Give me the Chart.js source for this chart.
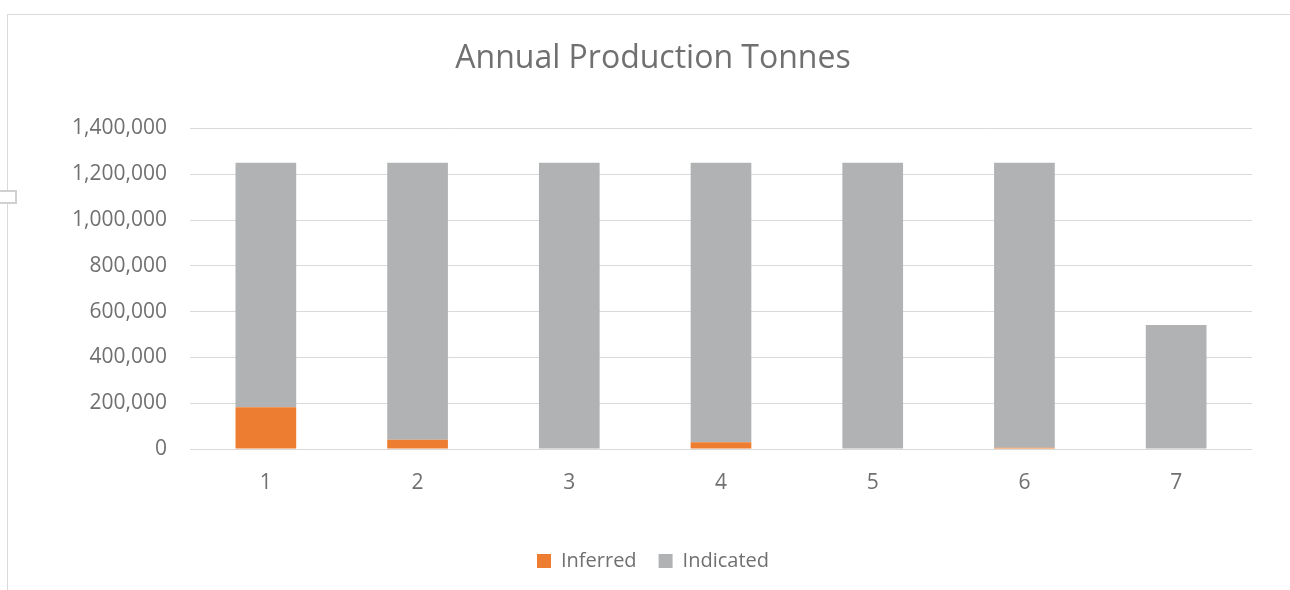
<!DOCTYPE html>
<html>
<head>
<meta charset="utf-8">
<script src="https://cdn.jsdelivr.net/npm/chart.js@4"></script>
<style>
    html, body { margin: 0; padding: 0; background: #fff; }
    #wrap { position: relative; width: 1290px; height: 590px; overflow: hidden; }
    #frame { position: absolute; left: 7px; top: 14px; width: 1300px; height: 600px; border: 1px solid #d9d9d9; box-sizing: border-box; pointer-events: none; }
    #handle { position: absolute; left: -2px; top: 190px; width: 19px; height: 14px; border: 2px solid #d0d0d0; box-sizing: border-box; background: #fff; pointer-events: none; }
</style>
</head>
<body>
<div id="wrap">
    <canvas id="prodChart" width="1290" height="590"></canvas>
    <div id="frame"></div>
    <div id="handle"></div>
</div>
<script>
const categories = ['1', '2', '3', '4', '5', '6', '7'];
const inferred = [182000, 40000, 0, 30000, 0, 5000, 0];
const indicated = [1068000, 1210000, 1250000, 1220000, 1250000, 1245000, 541000];

const textColor = '#707070';
const fontFamily = "'Open Sans', 'Noto Sans', sans-serif";

const ctx = document.getElementById('prodChart').getContext('2d');

new Chart(ctx, {
    type: 'bar',
    data: {
        labels: categories,
        datasets: [
            {
                label: 'Inferred',
                data: inferred,
                backgroundColor: '#ed7d31',
                borderWidth: 0,
                categoryPercentage: 1,
                barPercentage: 0.4
            },
            {
                label: 'Indicated',
                data: indicated,
                backgroundColor: '#b1b2b4',
                borderWidth: 0,
                categoryPercentage: 1,
                barPercentage: 0.4
            }
        ]
    },
    options: {
        responsive: false,
        animation: false,
        layout: { padding: { left: 54, right: 38, top: 0, bottom: 9 } },
        plugins: {
            title: {
                display: true,
                text: 'Annual Production Tonnes',
                color: textColor,
                font: { family: fontFamily, size: 32, weight: 'normal' },
                padding: { top: 40, bottom: 50 }
            },
            legend: {
                position: 'bottom',
                labels: {
                    color: textColor,
                    font: { family: fontFamily, size: 20 },
                    boxWidth: 14,
                    boxHeight: 14,
                    padding: 22
                }
            },
            tooltip: { enabled: false }
        },
        scales: {
            x: {
                stacked: true,
                grid: { display: false },
                border: { display: false },
                ticks: { color: textColor, font: { family: fontFamily, size: 21 }, padding: 13 },
                afterFit: (scale) => { scale.height = 80; }
            },
            y: {
                stacked: true,
                min: 0,
                max: 1400000,
                border: { display: false },
                grid: { color: '#d9d9d9', lineWidth: 1, drawTicks: false },
                ticks: {
                    stepSize: 200000,
                    color: textColor,
                    font: { family: fontFamily, size: 21 },
                    padding: 23,
                    callback: (v) => v.toLocaleString('en-US')
                },
                afterFit: (scale) => { scale.width = 136; }
            }
        }
    }
});
</script>
</body>
</html>
